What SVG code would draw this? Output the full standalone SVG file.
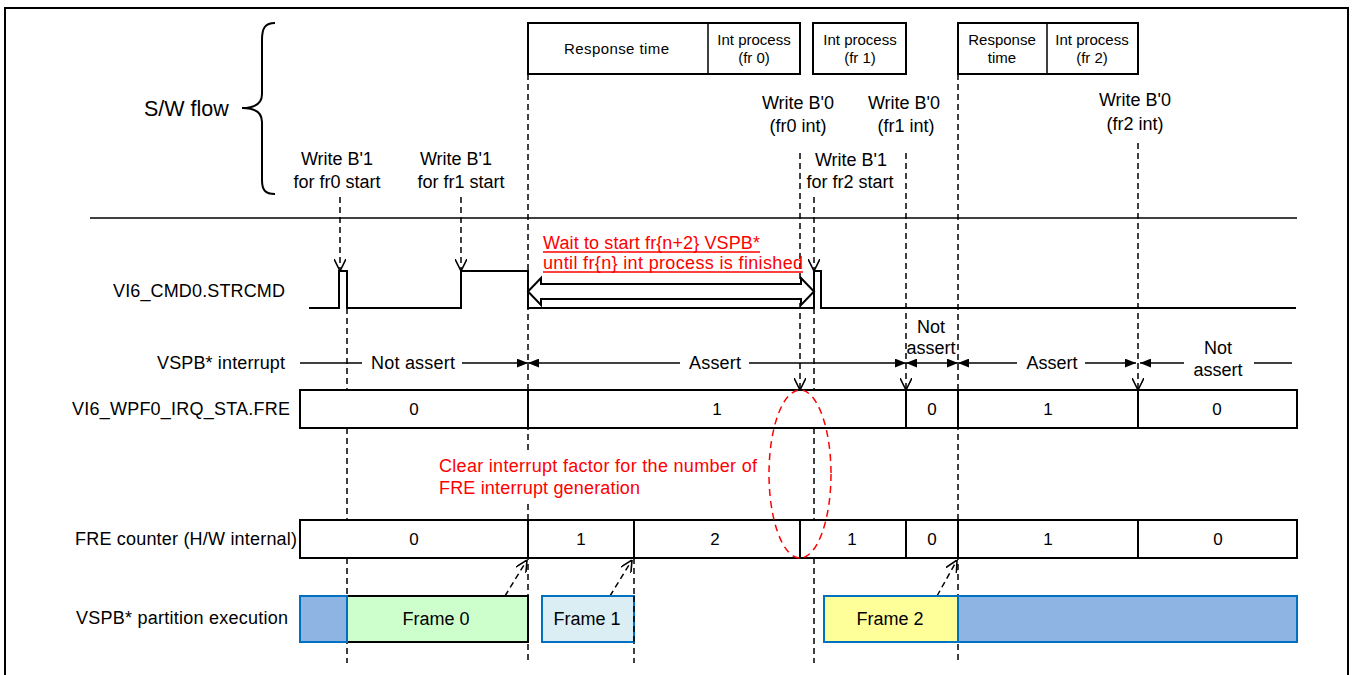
<svg xmlns="http://www.w3.org/2000/svg" width="1354" height="675" viewBox="0 0 1354 675">
<style>
.t{font-family:"Liberation Sans",Arial,sans-serif;font-size:18px;fill:#000}
.s{font-size:15px}
.n{font-size:17px}
.big{font-size:21.5px}
.r{fill:#f00}
.m{text-anchor:middle}
.e{text-anchor:end}
.d{stroke:#000;stroke-width:1.5;stroke-dasharray:6,4;fill:none}
.w{stroke:#000;stroke-width:2;fill:none}
.ln{stroke:#000;stroke-width:1.5;fill:none}
.box{fill:#fff;stroke:#000;stroke-width:2}
.blue{fill:#8EB4E3;stroke:#0070C0;stroke-width:2}
</style>
<defs>
<marker id="open" viewBox="0 0 12 12" refX="12" refY="6" markerWidth="12" markerHeight="12" markerUnits="userSpaceOnUse" orient="auto">
<path d="M0,0 L12,6 L0,12" fill="none" stroke="#000" stroke-width="1.6" stroke-dasharray="none"/>
</marker>
<marker id="fill" viewBox="0 0 10 8" refX="10" refY="4" markerWidth="11" markerHeight="9" markerUnits="userSpaceOnUse" orient="auto-start-reverse">
<path d="M0,0 L10,4 L0,8 Z" fill="#000" stroke="none"/>
</marker>
</defs>
<rect x="5" y="8" width="1343" height="680" fill="#fff" stroke="#000" stroke-width="2"/>

<g id="sw-flow">
<path d="M275,23 C265,23 262,28 262,40 L262,94 C262,104 255,108 242,108 C255,108 262,112 262,122 L262,180 C262,190 265,194 275,194" class="w" stroke-width="1.5"/>
<text class="t big" x="144" y="116">S/W flow</text>
</g>

<g id="top-boxes">
<rect x="528" y="23" width="272" height="51" class="box" stroke-width="1.5"/>
<line x1="708" y1="23" x2="708" y2="74" class="ln"/>
<text class="t s" x="564" y="54" textLength="105" lengthAdjust="spacing">Response time</text>
<text class="t s m" x="754" y="45">Int process</text>
<text class="t s m" x="754" y="63">(fr 0)</text>
<rect x="813" y="23" width="93" height="51" class="box" stroke-width="1.5"/>
<text class="t s m" x="860" y="45">Int process</text>
<text class="t s m" x="860" y="63">(fr 1)</text>
<rect x="958" y="23" width="180" height="51" class="box" stroke-width="1.5"/>
<line x1="1047" y1="23" x2="1047" y2="74" class="ln"/>
<text class="t s m" x="1002" y="45">Response</text>
<text class="t s m" x="1002" y="63">time</text>
<text class="t s m" x="1092" y="45">Int process</text>
<text class="t s m" x="1092" y="63">(fr 2)</text>
</g>

<g id="sw-labels">
<text class="t m" x="337" y="165">Write B'1</text>
<text class="t m" x="337" y="188">for fr0 start</text>
<text class="t m" x="456" y="165">Write B'1</text>
<text class="t m" x="461" y="188">for fr1 start</text>
<text class="t m" x="798" y="109">Write B'0</text>
<text class="t m" x="798" y="132">(fr0 int)</text>
<text class="t m" x="904" y="109">Write B'0</text>
<text class="t m" x="906" y="132">(fr1 int)</text>
<text class="t m" x="851" y="166">Write B'1</text>
<text class="t m" x="850" y="188">for fr2 start</text>
<text class="t m" x="1135" y="106">Write B'0</text>
<text class="t m" x="1135" y="130">(fr2 int)</text>
</g>

<line x1="90" y1="218" x2="1297" y2="218" class="ln" stroke-width="2"/>

<g id="connectors">
<line x1="340" y1="197" x2="340" y2="271" class="d" marker-end="url(#open)"/>
<line x1="461" y1="197" x2="461" y2="271" class="d" marker-end="url(#open)"/>
<line x1="814" y1="197" x2="814" y2="271" class="d" marker-end="url(#open)"/>
<line x1="800" y1="153" x2="800" y2="390" class="d" marker-end="url(#open)"/>
<line x1="906" y1="153" x2="906" y2="390" class="d" marker-end="url(#open)"/>
<line x1="1138" y1="143" x2="1138" y2="390" class="d" marker-end="url(#open)"/>
<line x1="347" y1="308" x2="347" y2="663" class="d"/>
<line x1="528" y1="74" x2="528" y2="663" class="d"/>
<line x1="814" y1="308" x2="814" y2="663" class="d"/>
<line x1="958" y1="74" x2="958" y2="663" class="d"/>
<line x1="634" y1="558" x2="634" y2="663" class="d"/>
<line x1="505" y1="596" x2="527" y2="560" class="d" marker-end="url(#open)"/>
<line x1="610" y1="596" x2="632" y2="560" class="d" marker-end="url(#open)"/>
<line x1="937" y1="596" x2="957" y2="560" class="d" marker-end="url(#open)"/>
</g>

<g id="strcmd">
<text class="t e" x="285" y="297" textLength="172" lengthAdjust="spacing">VI6_CMD0.STRCMD</text>
<path d="M309,308 H339 V271 H347 V308 H461 V271 H528 V308 H814 V271 H821 V308 H1296" class="w"/>
<polygon points="528,291.5 541,278 541,284 801,284 801,278 814,291.5 801,305 801,299 541,299 541,305" fill="#fff" stroke="#000" stroke-width="2"/>
<text class="t r" x="543" y="249" textLength="217" lengthAdjust="spacing">Wait to start fr{n+2} VSPB*</text>
<text class="t r" x="543" y="269" textLength="260" lengthAdjust="spacing">until fr{n} int process is finished</text>
<line x1="543" y1="252" x2="760" y2="252" stroke="#f00" stroke-width="1.5"/>
<line x1="543" y1="272" x2="803" y2="272" stroke="#f00" stroke-width="1.5"/>
</g>

<g id="interrupt">
<text class="t e" x="285" y="369" textLength="128" lengthAdjust="spacing">VSPB* interrupt</text>
<line x1="300" y1="363" x2="362" y2="363" class="ln"/>
<text class="t" x="371" y="369" textLength="84" lengthAdjust="spacing">Not assert</text>
<line x1="462" y1="363" x2="528" y2="363" class="ln" marker-end="url(#fill)"/>
<line x1="528" y1="363" x2="680" y2="363" class="ln" marker-start="url(#fill)"/>
<text class="t" x="689" y="369" textLength="52" lengthAdjust="spacing">Assert</text>
<line x1="749" y1="363" x2="906" y2="363" class="ln" marker-end="url(#fill)"/>
<line x1="906" y1="363" x2="958" y2="363" class="ln" marker-start="url(#fill)" marker-end="url(#fill)"/>
<text class="t m" x="931" y="333">Not</text>
<text class="t m" x="931" y="354">assert</text>
<line x1="958" y1="363" x2="1017" y2="363" class="ln" marker-start="url(#fill)"/>
<text class="t m" x="1052" y="369">Assert</text>
<line x1="1085" y1="363" x2="1136" y2="363" class="ln" marker-end="url(#fill)"/>
<line x1="1140" y1="363" x2="1184" y2="363" class="ln" marker-start="url(#fill)"/>
<text class="t m" x="1218" y="354">Not</text>
<text class="t m" x="1218" y="376">assert</text>
<line x1="1254" y1="363" x2="1292" y2="363" class="ln"/>
</g>

<g id="fre-status">
<text class="t e" x="290" y="415" textLength="218" lengthAdjust="spacing">VI6_WPF0_IRQ_STA.FRE</text>
<rect x="300" y="390" width="997" height="38" class="box"/>
<line x1="528" y1="390" x2="528" y2="428" class="w"/>
<line x1="906" y1="390" x2="906" y2="428" class="w"/>
<line x1="958" y1="390" x2="958" y2="428" class="w"/>
<line x1="1138" y1="390" x2="1138" y2="428" class="w"/>
<text class="t n m" x="414" y="415">0</text>
<text class="t n m" x="717" y="415">1</text>
<text class="t n m" x="932" y="415">0</text>
<text class="t n m" x="1048" y="415">1</text>
<text class="t n m" x="1217" y="415">0</text>
</g>

<g id="note">
<rect x="436" y="453" width="322" height="48" fill="#fff"/>
<text class="t r" x="439" y="472" textLength="318" lengthAdjust="spacing">Clear interrupt factor for the number of</text>
<text class="t r" x="439" y="494" textLength="201" lengthAdjust="spacing">FRE interrupt generation</text>
</g>

<g id="fre-counter">
<text class="t e" x="297" y="545" textLength="222" lengthAdjust="spacing">FRE counter (H/W internal)</text>
<rect x="300" y="520" width="997" height="38" class="box"/>
<line x1="528" y1="520" x2="528" y2="558" class="w"/>
<line x1="634" y1="520" x2="634" y2="558" class="w"/>
<line x1="800" y1="520" x2="800" y2="558" class="w"/>
<line x1="906" y1="520" x2="906" y2="558" class="w"/>
<line x1="958" y1="520" x2="958" y2="558" class="w"/>
<line x1="1138" y1="520" x2="1138" y2="558" class="w"/>
<text class="t n m" x="414" y="545">0</text>
<text class="t n m" x="581" y="545">1</text>
<text class="t n m" x="715" y="545">2</text>
<text class="t n m" x="852" y="545">1</text>
<text class="t n m" x="932" y="545">0</text>
<text class="t n m" x="1048" y="545">1</text>
<text class="t n m" x="1218" y="545">0</text>
</g>

<ellipse id="clear-mark" cx="800" cy="474" rx="31" ry="84" fill="none" stroke="#f00" stroke-width="1.5" stroke-dasharray="7,5"/>

<g id="partition">
<text class="t e" x="288" y="624" textLength="212" lengthAdjust="spacing">VSPB* partition execution</text>
<rect x="347" y="596" width="181" height="46" fill="#CCFFCC" stroke="#000" stroke-width="2"/>
<rect x="300" y="596" width="47" height="46" class="blue"/>
<text class="t m" x="436" y="625">Frame 0</text>
<rect x="542" y="596" width="92" height="46" fill="#DAEEF3" stroke="#0070C0" stroke-width="2"/>
<text class="t m" x="587" y="625">Frame 1</text>
<line x1="634" y1="596" x2="634" y2="642" class="d"/>
<rect x="824" y="596" width="134" height="46" fill="#FFFF99" stroke="#0070C0" stroke-width="2"/>
<text class="t m" x="890" y="625">Frame 2</text>
<rect x="958" y="596" width="339" height="46" class="blue"/>
</g>
</svg>
